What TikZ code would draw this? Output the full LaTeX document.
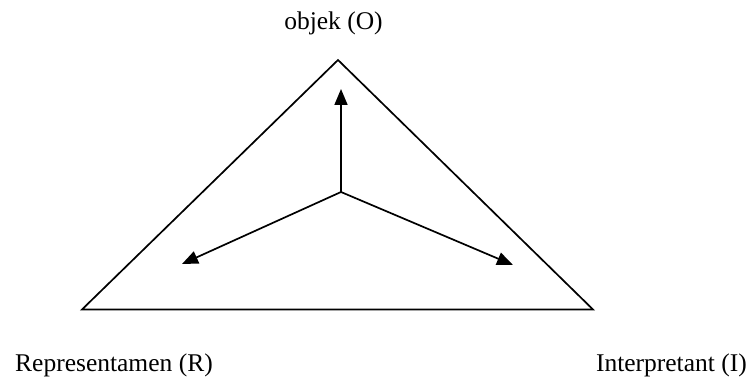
\documentclass[tikz,border=0pt]{standalone}
\usepackage{fontspec}
\setmainfont{Liberation Serif}
\usetikzlibrary{arrows.meta}
\begin{document}
\begin{tikzpicture}[x=1pt,y=1pt,
  edge/.style={line width=1.7pt, line join=miter},
  arr/.style={line width=1.7pt, -{Triangle[length=16pt,width=13pt]}},
  lbl/.style={inner sep=0pt, font=\fontsize{25.5}{30}\selectfont}]
\useasboundingbox (0,0) rectangle (752,379);
\coordinate (apex) at (338,319);
\coordinate (bl) at (82,69.5);
\coordinate (br) at (593,69.5);
\coordinate (c) at (341,187);
\coordinate (to) at (341,290);
\coordinate (tl) at (182,115);
\coordinate (tr) at (513,114);
\draw[edge] (apex) -- (br) -- (bl) -- cycle;
\draw[arr] (c) -- (to);
\draw[arr] (c) -- (tl);
\draw[arr] (c) -- (tr);
\node[lbl, anchor=base] (o) at (333.5,349) {objek (O)};
\node[lbl, anchor=base west] (r) at (15,7) {Representamen (R)};
\node[lbl, anchor=base east] (i) at (747,7) {Interpretant (I)};
\end{tikzpicture}
\end{document}
